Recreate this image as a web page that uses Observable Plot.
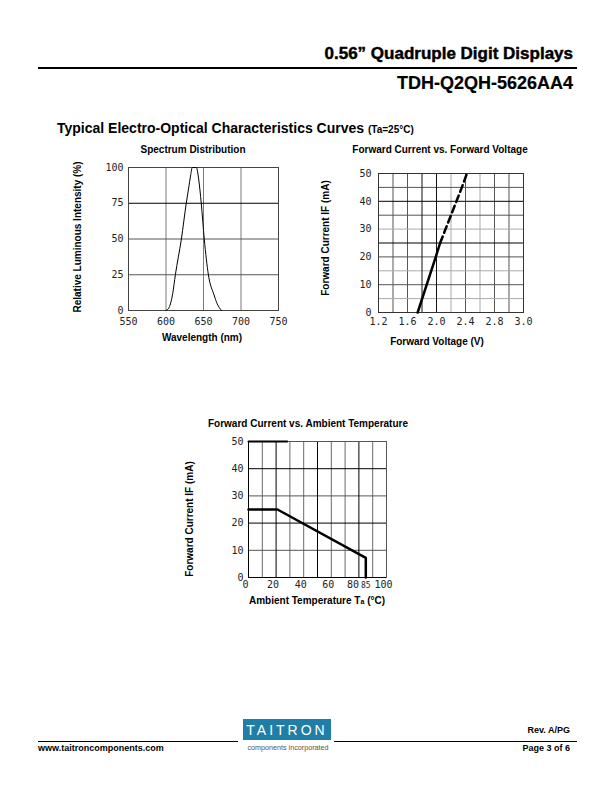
<!DOCTYPE html>
<html>
<head>
<meta charset="utf-8">
<script src="https://cdn.jsdelivr.net/npm/d3@7"></script>
<script src="https://cdn.jsdelivr.net/npm/@observablehq/plot@0.6"></script>
<style>
  html, body { margin: 0; padding: 0; background: #fff; }
  #page { position: relative; width: 612px; height: 792px; overflow: hidden; background: #fff;
          font-family: "Liberation Sans", Arial, Helvetica, sans-serif; color: #000; }
  .t { position: absolute; white-space: nowrap; }
  .chart { position: absolute; }
  .chart svg { overflow: visible; }
</style>
</head>
<body>
<div id="page"></div>
<script>
// ================= DATA =================
// Spectrum Distribution
const specWavelength = [600, 604, 609, 612.5, 620.5, 627, 630, 633, 635, 640.5, 643.5, 647, 651, 656.5, 664, 668, 674];
const specIntensity  = [0,   2,   12,  25,    50,    75,  85,  95,  100, 100,   92,    75,  50,  25,    11,  5,   0];
const specXTicks = [550, 600, 650, 700, 750];
const specYTicks = [0, 25, 50, 75, 100];
const specGridX = [600, 650, 700];
const specGridYDark = [25, 50];
const specGridYBlack = [75];

// Forward Current vs. Forward Voltage
const ivSolidV = [1.74, 1.99, 2.05];
const ivSolidI = [0, 20, 25];
const ivDashV  = [2.05, 2.20, 2.35, 2.42];
const ivDashI  = [25, 35, 45, 50];
const ivXTickPos    = [1.2, 1.6, 2.0, 2.4, 2.8, 3.2];
const ivXTickLabels = ["1.2", "1.6", "2.0", "2.4", "2.8", "3.0"];
const ivYTicks = [0, 10, 20, 30, 40, 50];
const ivGridXBlack = [1.8, 2.0];
const ivGridXDark  = [1.4, 1.6, 2.4, 2.8, 3.0];
const ivGridXLight = [2.2, 2.6];
const ivGridYBlack = [25, 40];
const ivGridYDark  = [10, 20, 35, 45];
const ivGridYLight = [5, 15, 30];

// Forward Current vs. Ambient Temperature
const taTemp    = [0, 21, 85, 85];
const taCurrent = [25, 25, 7.2, 0];
const taXTicks = [0, 20, 40, 60, 80, 100];
const taXExtraTick = [85];
const taYTicks = [0, 10, 20, 30, 40, 50];
const taGridXBlack = [20, 50, 80];
const taGridXGray  = [10, 30, 40, 60, 70, 90];
const taGridYBlack = [20, 40];
const taGridYGray  = [10, 30];
const taTopEdgeTemp = [0, 28];
const taTopEdgeCurrent = [50, 50];

// ================= HELPERS =================
const page = document.getElementById("page");
const SANS = '"Liberation Sans", Arial, Helvetica, sans-serif';
const MONO = '"DejaVu Sans Mono", monospace';

function txt(html, x, base, o = {}) {
  const fs = o.size || 10;
  const d = document.createElement("div");
  d.className = "t";
  d.innerHTML = html;
  d.style.fontFamily = o.family || SANS;
  d.style.fontSize = fs + "px";
  d.style.fontWeight = o.weight || "bold";
  d.style.lineHeight = fs + "px";
  d.style.color = o.color || "#000";
  d.style.top = (base - 0.8465 * fs) + "px";
  if (o.spacing) d.style.letterSpacing = o.spacing + "px";
  if (o.stroke) d.style.webkitTextStroke = o.stroke + "px #000";
  if (o.anchor === "middle") { d.style.left = x + "px"; d.style.transform = "translateX(-50%)"; }
  else if (o.anchor === "end") { d.style.right = (612 - x) + "px"; }
  else d.style.left = x + "px";
  page.appendChild(d);
  return d;
}
function vtxt(html, cx, cy, o = {}) {
  const fs = o.size || 10;
  const d = document.createElement("div");
  d.className = "t";
  d.innerHTML = html;
  d.style.fontFamily = o.family || SANS;
  d.style.fontSize = fs + "px";
  d.style.fontWeight = o.weight || "bold";
  d.style.lineHeight = fs + "px";
  d.style.left = cx + "px";
  d.style.top = cy + "px";
  d.style.transform = "translate(-50%,-50%) rotate(-90deg)";
  page.appendChild(d);
  return d;
}
function box(x, y, w, h, color) {
  const d = document.createElement("div");
  d.style.cssText = `position:absolute;left:${x}px;top:${y}px;width:${w}px;height:${h}px;background:${color};`;
  page.appendChild(d);
  return d;
}
function place(svg, left, top) {
  const d = document.createElement("div");
  d.className = "chart";
  d.style.left = left + "px";
  d.style.top = top + "px";
  d.appendChild(svg);
  page.appendChild(d);
}
const zip = (a, b) => a.map((v, i) => ({x: v, y: b[i]}));

// ================= HEADER =================
txt("0.56\u201D Quadruple Digit Displays", 573, 59, {size: 17, anchor: "end", stroke: 0.45});
box(38, 67, 539, 1.6, "#000");
txt("TDH-Q2QH-5626AA4", 573, 89, {size: 18, anchor: "end", stroke: 0.2});

txt('Typical Electro-Optical Characteristics Curves <span style="font-size:10px">(Ta=25\u00B0C)</span>', 57, 133, {size: 14});

// ================= CHART 1 : Spectrum =================
txt("Spectrum Distribution", 193, 153, {size: 10, anchor: "middle"});
const axisStyle = {fontFamily: MONO, fontSize: "10px", background: "transparent", overflow: "visible"};
const p1 = Plot.plot({
  width: 230, height: 215,
  marginLeft: 68, marginRight: 12, marginTop: 27, marginBottom: 45,
  x: {domain: [550, 750]},
  y: {domain: [0, 100]},
  style: axisStyle,
  marks: [
    Plot.gridX(specGridX, {stroke: "#7a7a7a", strokeOpacity: 1}),
    Plot.gridY(specGridYDark, {stroke: "#555", strokeOpacity: 1}),
    Plot.gridY(specGridYBlack, {stroke: "#000", strokeOpacity: 1}),
    Plot.frame({stroke: "#444"}),
    Plot.line(zip(specWavelength, specIntensity), {x: "x", y: "y", stroke: "#000", strokeWidth: 1, curve: "monotone-x"}),
    Plot.axisX(specXTicks, {tickSize: 0, tickPadding: 7, label: null, fill: "#222"}),
    Plot.axisY(specYTicks, {tickSize: 0, tickPadding: 5, label: null, fill: "#222"})
  ]
});
place(p1, 60, 140);
vtxt("Relative Luminous Intensity (%)", 78, 237, {size: 10});
txt("Wavelength (nm)", 202, 341, {size: 10, anchor: "middle"});

// ================= CHART 2 : IV =================
txt("Forward Current vs. Forward Voltage", 440, 153, {size: 10, anchor: "middle"});
const p2 = Plot.plot({
  width: 215, height: 185,
  marginLeft: 58, marginRight: 12, marginTop: 13, marginBottom: 33,
  x: {domain: [1.2, 3.2]},
  y: {domain: [0, 50]},
  style: axisStyle,
  marks: [
    Plot.gridX(ivGridXLight, {stroke: "#aaa", strokeOpacity: 1}),
    Plot.gridX(ivGridXDark, {stroke: "#555", strokeOpacity: 1}),
    Plot.gridY(ivGridYLight, {stroke: "#aaa", strokeOpacity: 1}),
    Plot.gridY(ivGridYDark, {stroke: "#555", strokeOpacity: 1}),
    Plot.gridX(ivGridXBlack, {stroke: "#111", strokeOpacity: 1}),
    Plot.gridY(ivGridYBlack, {stroke: "#000", strokeOpacity: 1}),
    Plot.frame({stroke: "#333"}),
    Plot.line(zip(ivSolidV, ivSolidI), {x: "x", y: "y", stroke: "#000", strokeWidth: 2.5}),
    Plot.line(zip(ivDashV, ivDashI), {x: "x", y: "y", stroke: "#000", strokeWidth: 2.5, strokeDasharray: "7,4"}),
    Plot.axisX(ivXTickPos, {tickSize: 0, tickPadding: 5, label: null, fill: "#222",
      tickFormat: d => ivXTickLabels[ivXTickPos.indexOf(d)]}),
    Plot.axisY(ivYTicks, {tickSize: 0, tickPadding: 7, label: null, fill: "#222"})
  ]
});
place(p2, 320, 160);
vtxt("Forward Current IF (mA)", 326, 238, {size: 10});
txt("Forward Voltage (V)", 437, 345, {size: 10, anchor: "middle"});

// ================= CHART 3 : Derating =================
txt("Forward Current vs. Ambient Temperature", 308, 427, {size: 10, anchor: "middle"});
const p3 = Plot.plot({
  width: 210, height: 170,
  marginLeft: 58, marginRight: 14, marginTop: 11, marginBottom: 23,
  x: {domain: [0, 100]},
  y: {domain: [0, 50]},
  style: axisStyle,
  marks: [
    Plot.gridX(taGridXGray, {stroke: "#6a6a6a", strokeOpacity: 1}),
    Plot.gridY(taGridYGray, {stroke: "#555", strokeOpacity: 1}),
    Plot.gridX(taGridXBlack, {stroke: "#000", strokeOpacity: 1}),
    Plot.gridY(taGridYBlack, {stroke: "#000", strokeOpacity: 1}),
    Plot.frame({stroke: "#555"}),
    Plot.ruleX([0], {stroke: "#000"}),
    Plot.ruleY([0], {stroke: "#000"}),
    Plot.line(zip(taTopEdgeTemp, taTopEdgeCurrent), {x: "x", y: "y", stroke: "#000", strokeWidth: 2}),
    Plot.line(zip(taTemp, taCurrent), {x: "x", y: "y", stroke: "#000", strokeWidth: 2.5}),
    Plot.axisX(taXTicks.filter(d => d !== 80), {tickSize: 0, tickPadding: 3, label: null, fill: "#222", dx: -3}),
    Plot.axisX(taXTicks.filter(d => d === 80), {tickSize: 0, tickPadding: 3, label: null, fill: "#222", dx: -6}),
    Plot.axisX(taXExtraTick, {tickSize: 0, tickPadding: 5, label: null, fill: "#222", fontSize: 8, dx: 0}),
    Plot.axisY(taYTicks, {tickSize: 0, tickPadding: 5, label: null, fill: "#222"})
  ]
});
place(p3, 190, 430);
vtxt("Forward Current IF (mA)", 190, 519, {size: 10});
txt('Ambient Temperature T<span style="font-size:7px">a</span> (\u00B0C)', 317, 604, {size: 10, anchor: "middle"});

// ================= FOOTER =================
txt("Rev. A/PG", 570, 734, {size: 9, anchor: "end"});
box(38, 741, 200, 1.2, "#000");
box(334, 741, 243, 1.2, "#000");
box(243, 719, 88, 21, "#1f7ea5");
txt("TAITRON", 287, 735, {size: 14, weight: "normal", color: "#fff", anchor: "middle", spacing: 3});
txt("components incorporated", 288, 750, {size: 7.2, weight: "normal", color: "#555", anchor: "middle"});
txt("www.taitroncomponents.com", 38, 752, {size: 9});
txt("Page 3 of 6", 570, 752, {size: 9, anchor: "end"});
</script>
</body>
</html>
